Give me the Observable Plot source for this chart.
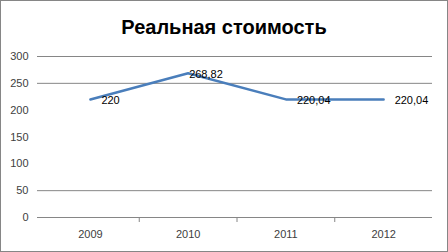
<!DOCTYPE html>
<html><head><meta charset="utf-8">
<script src="https://cdn.jsdelivr.net/npm/d3@7"></script>
<script src="https://cdn.jsdelivr.net/npm/@observablehq/plot@0.6"></script>
<style>
html,body{margin:0;padding:0;background:#fff;}
#box{width:448px;height:252px;box-sizing:border-box;border:1px solid #868686;background:#fff;overflow:hidden;}
#title{height:40px;font:bold 20px/52px "Liberation Sans",Arial,sans-serif;text-align:center;color:#000;overflow:visible;}
</style></head>
<body>
<div id="box"><div id="title">Реальная стоимость</div><div id="chart"></div></div>
<script>
const years = [2009, 2010, 2011, 2012];
const values = [220, 268.82, 220.04, 220.04];
const labels = ["220", "268,82", "220,04", "220,04"];
const yTicks = [0, 50, 100, 150, 200, 250, 300];
const gridValues = [0, 50, 250, 300];
const categoryBounds = [2009.5, 2010.5, 2011.5];

const data = years.map((y, i) => ({year: y, value: values[i], label: labels[i], peak: values[i] === d3.max(values)}));

const chart = Plot.plot({
  width: 446, height: 210,
  marginLeft: 36, marginRight: 15, marginTop: 15, marginBottom: 34,
  insetLeft: 4,
  style: {fontFamily: "Liberation Sans, Arial, sans-serif", fontSize: "11px", color: "#404040", background: "#fff"},
  x: {domain: [2008.5, 2012.5], label: null},
  y: {domain: [0, 300], label: null},
  marks: [
    Plot.ruleY(gridValues, {stroke: "#868686", strokeWidth: 1}),
    Plot.axisY(yTicks, {tickSize: 0, tickPadding: 9, label: null, fontSize: 11}),
    Plot.axisX(years, {tickSize: 0, tickPadding: 13, tickFormat: "d", label: null, fontSize: 11}),
    Plot.axisX(categoryBounds, {tickSize: 5, tickFormat: () => "", label: null, stroke: "#868686"}),
    Plot.line(data, {x: "year", y: "value", stroke: "#4a7ebb", strokeWidth: 2.5}),
    Plot.text(data.filter(d => !d.peak), {x: "year", y: "value", text: "label", textAnchor: "start", dx: 11, dy: 1, fill: "#000", fontSize: 11}),
    Plot.text(data.filter(d => d.peak), {x: "year", y: "value", text: "label", textAnchor: "start", dx: 1, dy: 1, fill: "#000", fontSize: 11})
  ]
});
document.getElementById("chart").appendChild(chart);
</script>
</body></html>
